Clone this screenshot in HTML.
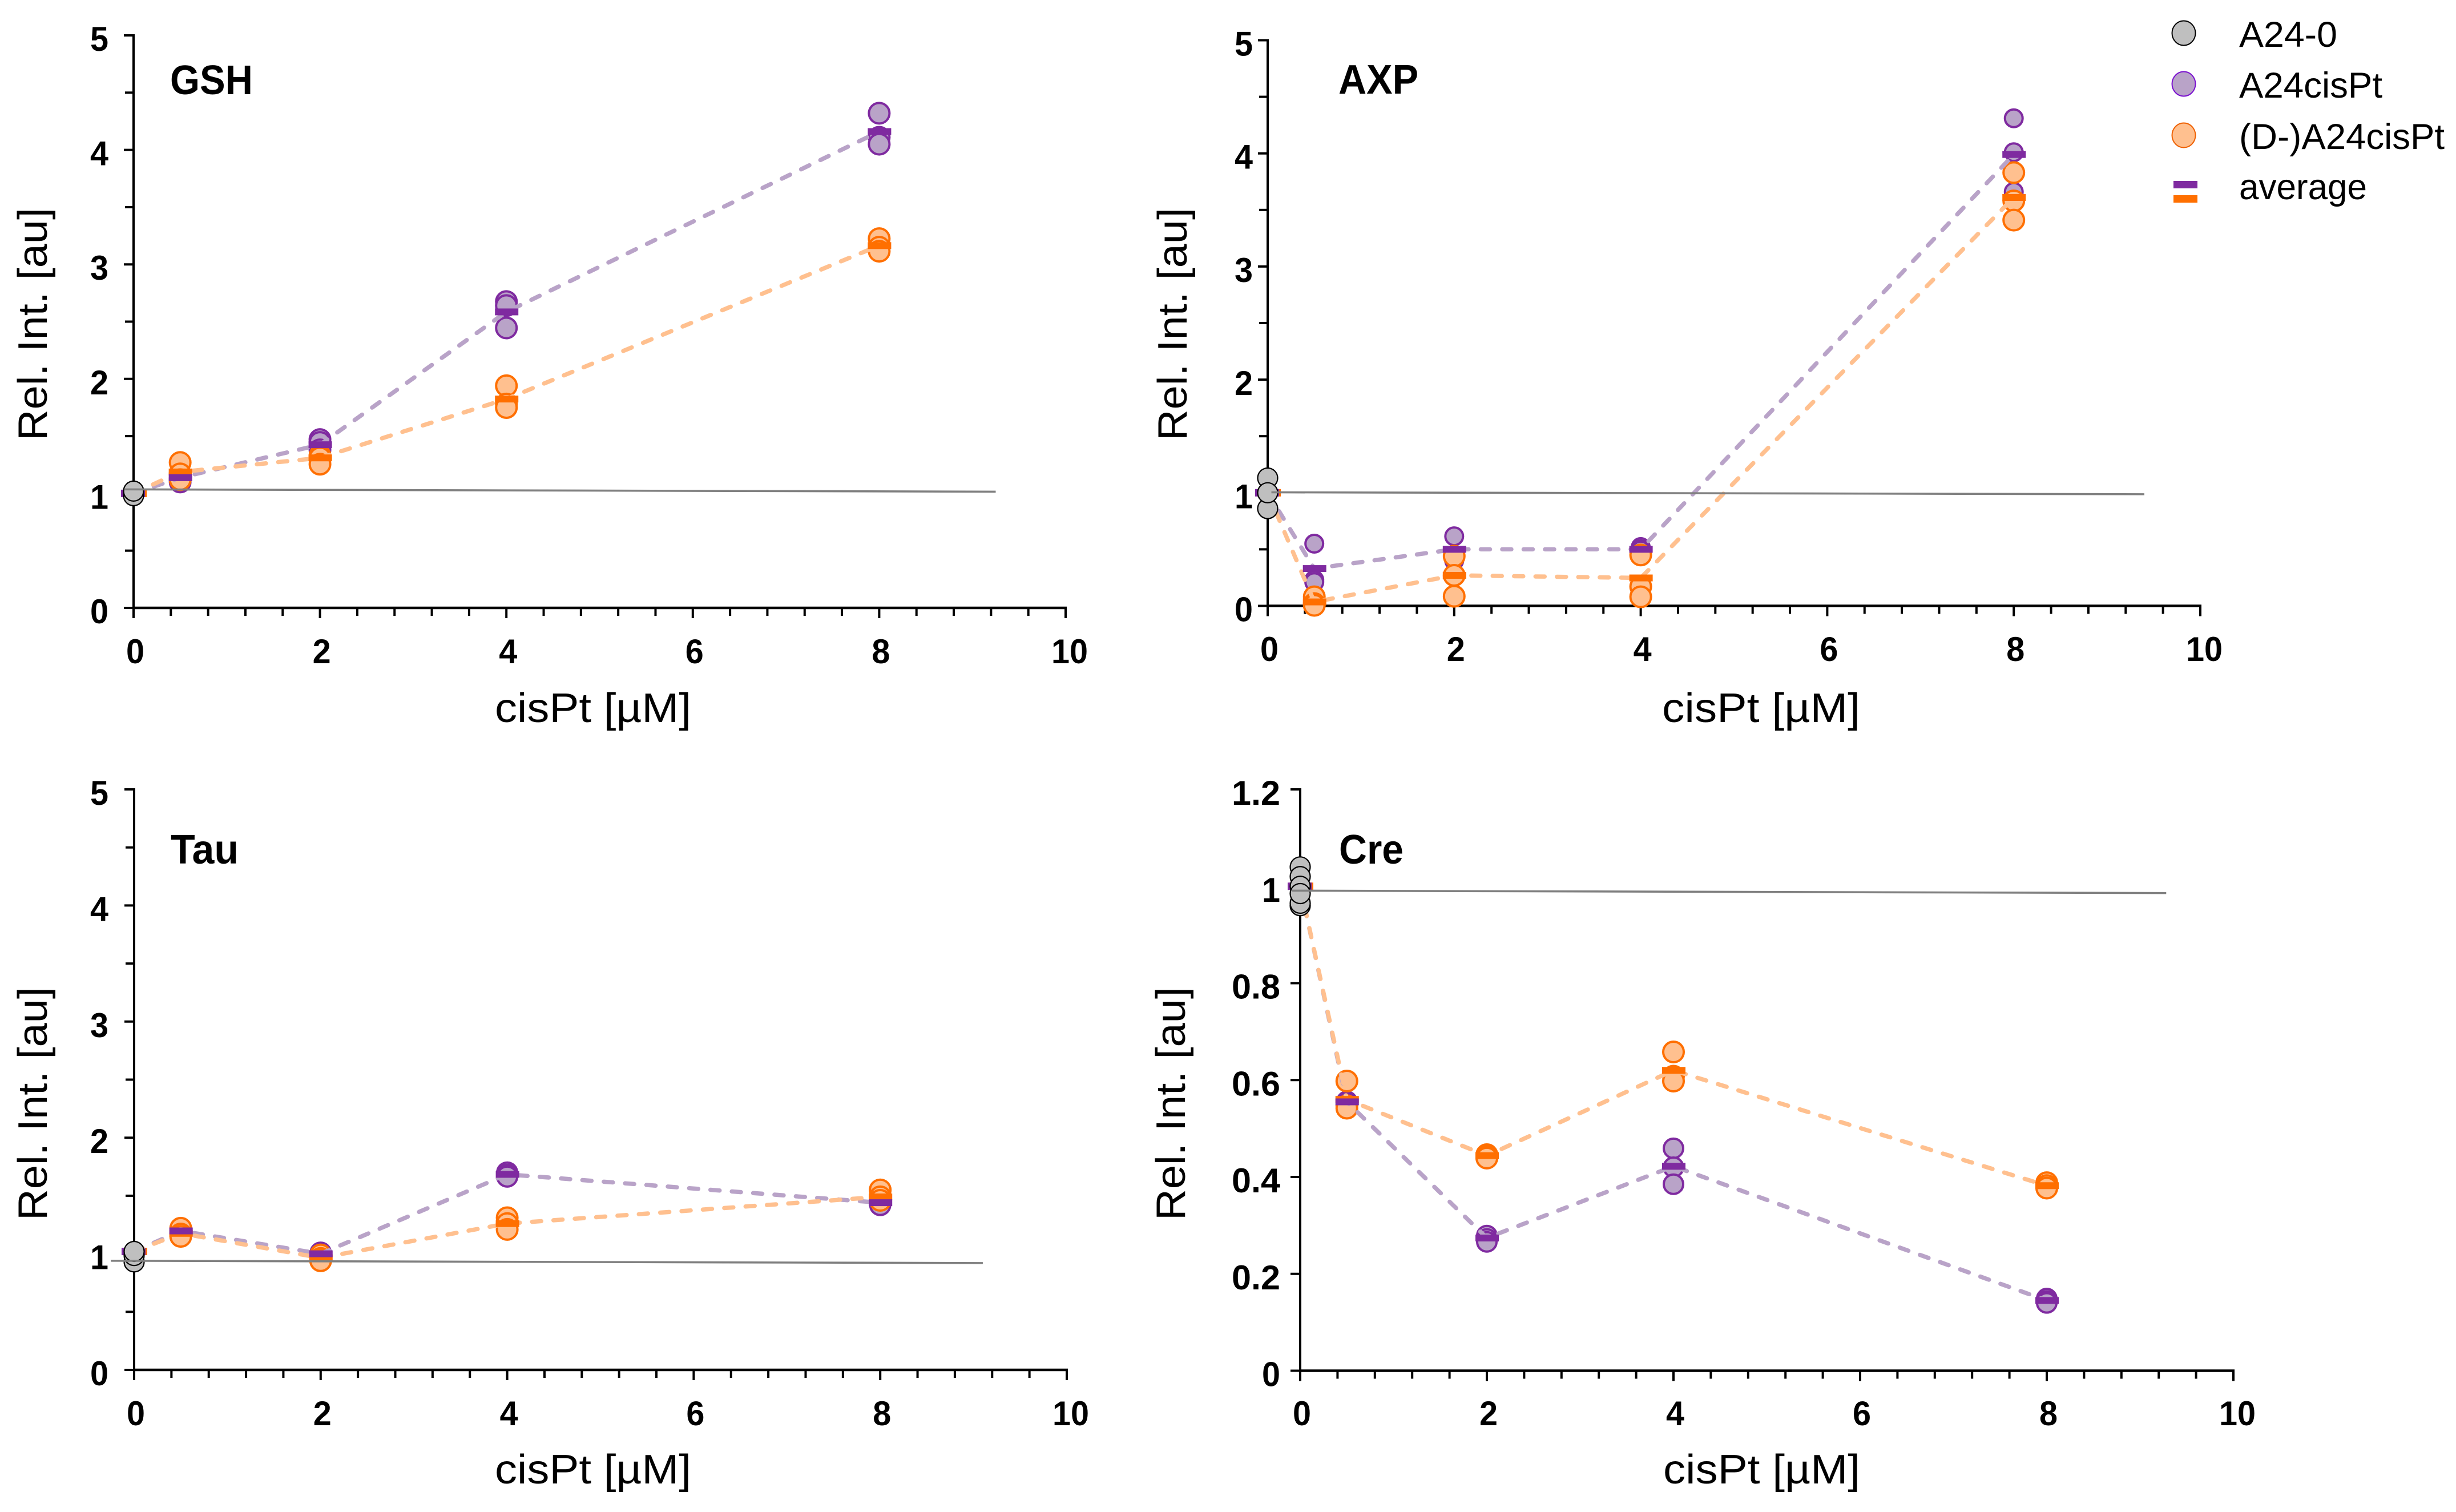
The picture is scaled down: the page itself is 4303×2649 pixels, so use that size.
<!DOCTYPE html>
<html lang="en">
<head>
<meta charset="utf-8">
<title>Relative metabolite intensity versus cisPt concentration</title>
<style>
html,body{margin:0;padding:0;background:#fff;}
svg{display:block;}
text{font-family:"Liberation Sans",sans-serif;fill:#000;}
.tick-label{font-weight:700;font-size:60px;}
.panel-title{font-weight:700;font-size:72px;}
.axis-title{font-size:72px;}
.legend-text{font-size:63px;}
</style>
</head>
<body>
<svg id="figure" xmlns="http://www.w3.org/2000/svg" width="4303" height="2649" viewBox="0 0 4303 2649">
  <rect x="0" y="0" width="4303" height="2649" fill="#fff"/>

  <g id="panel-gsh">
    <text class="panel-title" x="298" y="165" textLength="145" lengthAdjust="spacingAndGlyphs">GSH</text>
    <text class="axis-title" x="867" y="1265" textLength="344" lengthAdjust="spacingAndGlyphs">cisPt [µM]</text>
    <text class="axis-title" transform="translate(82 772) rotate(-90)" x="0" y="0" textLength="408" lengthAdjust="spacingAndGlyphs">Rel. Int. [au]</text>
  </g>
  <g id="panel-axp">
    <text class="panel-title" x="2345" y="164" textLength="140" lengthAdjust="spacingAndGlyphs">AXP</text>
    <text class="axis-title" x="2912" y="1265" textLength="347" lengthAdjust="spacingAndGlyphs">cisPt [µM]</text>
    <text class="axis-title" transform="translate(2079 772) rotate(-90)" x="0" y="0" textLength="408" lengthAdjust="spacingAndGlyphs">Rel. Int. [au]</text>
  </g>
  <g id="panel-tau">
    <text class="panel-title" x="299" y="1513" textLength="119" lengthAdjust="spacingAndGlyphs">Tau</text>
    <text class="axis-title" x="867" y="2599" textLength="344" lengthAdjust="spacingAndGlyphs">cisPt [µM]</text>
    <text class="axis-title" transform="translate(82 2138) rotate(-90)" x="0" y="0" textLength="409" lengthAdjust="spacingAndGlyphs">Rel. Int. [au]</text>
  </g>
  <g id="panel-cre">
    <text class="panel-title" x="2346" y="1513" textLength="113" lengthAdjust="spacingAndGlyphs">Cre</text>
    <text class="axis-title" x="2914" y="2599" textLength="345" lengthAdjust="spacingAndGlyphs">cisPt [µM]</text>
    <text class="axis-title" transform="translate(2076 2138) rotate(-90)" x="0" y="0" textLength="409" lengthAdjust="spacingAndGlyphs">Rel. Int. [au]</text>
  </g>

  <g>
    <ellipse cx="3826" cy="58" rx="20.5" ry="21.5" fill="#bfbfbf" stroke="#000" stroke-width="2"/>
    <text class="legend-text" x="3923" y="82" textLength="172" lengthAdjust="spacingAndGlyphs">A24-0</text>
    <ellipse cx="3826" cy="147" rx="20.5" ry="21.5" fill="#b9a3c8" stroke="#7a10cf" stroke-width="2"/>
    <text class="legend-text" x="3923" y="171" textLength="251" lengthAdjust="spacingAndGlyphs">A24cisPt</text>
    <ellipse cx="3826" cy="237" rx="20.5" ry="21.5" fill="#ffc08f" stroke="#ee6000" stroke-width="2"/>
    <text class="legend-text" x="3923" y="261" textLength="360" lengthAdjust="spacingAndGlyphs">(D-)A24cisPt</text>
    <rect x="3808" y="317" width="42" height="13" fill="#7f2aa0"/>
    <rect x="3808" y="342" width="42" height="13" fill="#ff6f00"/>
    <text class="legend-text" x="3923" y="349" textLength="224" lengthAdjust="spacingAndGlyphs">average</text>
  </g>
</svg>

<script>
// Shared axis values
const doses = [0.5, 2, 4, 8];
const xTickLabels = ['0', '2', '4', '6', '8', '10'];
const xTickValues = [0, 2, 4, 6, 8, 10];
const yTicksStandard = [0, 1, 2, 3, 4, 5];
const yLabelsStandard = ['0', '1', '2', '3', '4', '5'];
const yTicksCre = [0, 0.2, 0.4, 0.6, 0.8, 1, 1.2];
const yLabelsCre = ['0', '0.2', '0.4', '0.6', '0.8', '1', '1.2'];

// GSH
const gshControl = [1.00, 0.98, 1.02];
const gshPurple = [[1.10, 1.13, 1.17], [1.47, 1.445, 1.38], [2.675, 2.64, 2.445], [4.32, 4.11, 4.05]];
const gshOrange = [[1.27, 1.17, 1.12], [1.33, 1.31, 1.255], [1.94, 1.78, 1.75], [3.225, 3.15, 3.115]];
const gshPurpleAvg = [1.00, 1.137, 1.425, 2.585, 4.16];
const gshOrangeAvg = [1.00, 1.187, 1.31, 1.824, 3.164];
const gshRefX = [-0.1, 9.25];
const gshRefY = [1.035, 1.015];

// AXP
const axpControl = [1.13, 0.86, 1.00];
const axpPurple = [[0.55, 0.23, 0.21], [0.615, 0.44, 0.40], [0.52, 0.50, 0.49], [4.31, 4.01, 3.66]];
const axpOrange = [[0.08, 0.02, 0.005], [0.44, 0.27, 0.085], [0.45, 0.17, 0.08], [3.83, 3.58, 3.41]];
const axpPurpleAvg = [1.00, 0.33, 0.50, 0.50, 3.99];
const axpOrangeAvg = [1.00, 0.035, 0.27, 0.247, 3.61];
const axpRefX = [0.04, 9.4];
const axpRefY = [1.004, 0.987];

// Tau
const tauControl = [0.93, 0.985, 1.02];
const tauPurple = [[1.22, 1.20, 1.18], [1.01, 0.99, 0.97], [1.70, 1.68, 1.665], [1.46, 1.44, 1.42]];
const tauOrange = [[1.22, 1.17, 1.15], [0.99, 0.96, 0.94], [1.31, 1.26, 1.21], [1.55, 1.49, 1.46]];
const tauPurpleAvg = [1.02, 1.197, 1.00, 1.684, 1.44];
const tauOrangeAvg = [1.02, 1.176, 0.965, 1.26, 1.49];
const tauRefX = [-0.25, 9.1];
const tauRefY = [0.94, 0.92];

// Cre
const creControl = [1.04, 1.02, 1.00, 0.96, 0.965, 0.985];
const crePurple = [[0.556, 0.553, 0.55], [0.279, 0.272, 0.266], [0.459, 0.42, 0.385], [0.149, 0.144, 0.14]];
const creOrange = [[0.598, 0.547, 0.542], [0.446, 0.443, 0.439], [0.658, 0.608, 0.598], [0.388, 0.382, 0.377]];
const crePurpleAvg = [1.00, 0.555, 0.274, 0.422, 0.145];
const creOrangeAvg = [1.00, 0.56, 0.444, 0.62, 0.382];
const creRefX = [-0.09, 9.28];
const creRefY = [0.991, 0.986];

const NS = 'http://www.w3.org/2000/svg';
function svgEl(parent, tag, attrs) {
  const el = document.createElementNS(NS, tag);
  for (const k in attrs) el.setAttribute(k, attrs[k]);
  parent.appendChild(el);
  return el;
}
function labelWidth(s) {
  let w = 0;
  for (const ch of s) w += ch === '.' ? 21 : 32;
  return w;
}

function drawPanel(o) {
  const g = document.getElementById(o.id);
  const xScale = v => o.x0 + (o.x10 - o.x0) * v / 10;
  const yScale = v => o.y0 - (o.y0 - o.yTop) * v / o.yMax;

  // axes
  const yAxis = svgEl(g, 'line', {x1: o.x0, x2: o.x0, y1: o.yTop - 2, y2: o.y0 + 17, stroke: '#000', 'stroke-width': 4});
  
  
  const xAxis = svgEl(g, 'line', {x1: o.x0 - 2, x2: o.x10 + 2, y1: o.y0, y2: o.y0, stroke: '#000', 'stroke-width': 4.5});
  
  

  // x ticks: minor every 0.4
  for (let i = 0; i <= 25; i++) {
    const major = i % 5 === 0;
    const px = xScale(i * 0.4);
    const t = svgEl(g, 'line', {x1: px, x2: px, y1: o.y0, y2: o.y0 + (major ? 18 : 14), stroke: '#000', 'stroke-width': 4});
    
    
  }
  xTickValues.forEach(function (v, i) {
    const s = xTickLabels[i];
    const t = svgEl(g, 'text', {class: 'tick-label', x: xScale(v) + (s.length > 1 ? 7 : 3), y: o.xLabelY, 'text-anchor': 'middle', textLength: labelWidth(s), lengthAdjust: 'spacingAndGlyphs'});
    t.textContent = s;
    
    
  });

  // y ticks and labels
  o.yTicks.forEach(function (v, i) {
    const py = yScale(v);
    const t = svgEl(g, 'line', {x1: o.x0 - 17, x2: o.x0, y1: py, y2: py, stroke: '#000', 'stroke-width': 4});
    
    
    const s = o.yLabels[i];
    const l = svgEl(g, 'text', {class: 'tick-label', x: o.yLabelX, y: py + 27, 'text-anchor': 'end', textLength: labelWidth(s), lengthAdjust: 'spacingAndGlyphs'});
    l.textContent = s;
    
    
    if (o.yMinor && i < o.yTicks.length - 1) {
      const pm = yScale((v + o.yTicks[i + 1]) / 2);
      const m = svgEl(g, 'line', {x1: o.x0 - 15, x2: o.x0, y1: pm, y2: pm, stroke: '#000', 'stroke-width': 4});
      
      
    }
  });

  // average bars hidden behind control at dose 0
  [[o.orangeAvg, '#ff6f00', 3], [o.purpleAvg, '#7f2aa0', 0]].forEach(function (s) {
    const r = svgEl(g, 'rect', {x: xScale(0) - 22 + s[2], y: yScale(s[0][0]) - 6.5, width: 42, height: 13, fill: s[1]});
    
    
  });

  // replicate points
  o.purple.forEach(function (reps, i) {
    reps.forEach(function (v) {
      const c = svgEl(g, 'circle', {cx: xScale(doses[i]), cy: yScale(v), r: o.purpleR, fill: '#b9a3c8', stroke: '#7f2aa0', 'stroke-width': 4});
      
      
    });
  });
  o.orange.forEach(function (reps, i) {
    reps.forEach(function (v) {
      const c = svgEl(g, 'circle', {cx: xScale(doses[i]), cy: yScale(v), r: 18, fill: '#ffc08f', stroke: '#ff6f00', 'stroke-width': 4});
      
      
    });
  });

  // dashed average lines, purple first, orange on top
  const xs = [0].concat(doses);
  [[o.purpleAvg, '#b9a3c8'], [o.orangeAvg, '#ffc08f']].forEach(function (s) {
    const pts = s[0].map((v, i) => xScale(xs[i]).toFixed(1) + ',' + yScale(v).toFixed(1)).join(' ');
    const line = svgEl(g, 'polyline', {points: pts, fill: 'none', stroke: s[1], 'stroke-width': 7.5, 'stroke-dasharray': '16 21.5', 'stroke-linecap': 'round'});
    
    
  });

  // average marks
  [[o.orangeAvg, '#ff6f00'], [o.purpleAvg, '#7f2aa0']].forEach(function (s) {
    doses.forEach(function (d, i) {
      const r = svgEl(g, 'rect', {x: xScale(d) - 20, y: yScale(s[0][i + 1]) - 6, width: 41, height: 12, fill: s[1]});
      
      
    });
  });

  // control points
  o.control.forEach(function (v) {
    const c = svgEl(g, 'circle', {cx: xScale(0), cy: yScale(v), r: 17.5, fill: '#bfbfbf', stroke: '#000', 'stroke-width': 2.2});
    
    
  });

  // reference line
  const ref = svgEl(g, 'line', {x1: xScale(o.refX[0]), x2: xScale(o.refX[1]), y1: yScale(o.refY[0]), y2: yScale(o.refY[1]), stroke: '#808080', 'stroke-width': 3.6});
  
  
}

drawPanel({id: 'panel-gsh', x0: 234, x10: 1867, y0: 1065, yTop: 62, yMax: 5, yMinor: true, purpleR: 18, yTicks: yTicksStandard, yLabels: yLabelsStandard, yLabelX: 190, xLabelY: 1162,
  control: gshControl, purple: gshPurple, orange: gshOrange, purpleAvg: gshPurpleAvg, orangeAvg: gshOrangeAvg, refX: gshRefX, refY: gshRefY});
drawPanel({id: 'panel-axp', x0: 2221, x10: 3855, y0: 1061.5, yTop: 70.5, yMax: 5, yMinor: true, purpleR: 15.5, yTicks: yTicksStandard, yLabels: yLabelsStandard, yLabelX: 2195, xLabelY: 1158,
  control: axpControl, purple: axpPurple, orange: axpOrange, purpleAvg: axpPurpleAvg, orangeAvg: axpOrangeAvg, refX: axpRefX, refY: axpRefY});
drawPanel({id: 'panel-tau', x0: 235, x10: 1869, y0: 2400, yTop: 1383, yMax: 5, yMinor: true, purpleR: 17.5, yTicks: yTicksStandard, yLabels: yLabelsStandard, yLabelX: 190, xLabelY: 2497,
  control: tauControl, purple: tauPurple, orange: tauOrange, purpleAvg: tauPurpleAvg, orangeAvg: tauOrangeAvg, refX: tauRefX, refY: tauRefY});
drawPanel({id: 'panel-cre', x0: 2278, x10: 3913, y0: 2401.5, yTop: 1383, yMax: 1.2, yMinor: false, purpleR: 17, yTicks: yTicksCre, yLabels: yLabelsCre, yLabelX: 2243, xLabelY: 2497,
  control: creControl, purple: crePurple, orange: creOrange, purpleAvg: crePurpleAvg, orangeAvg: creOrangeAvg, refX: creRefX, refY: creRefY});
</script>
</body>
</html>
